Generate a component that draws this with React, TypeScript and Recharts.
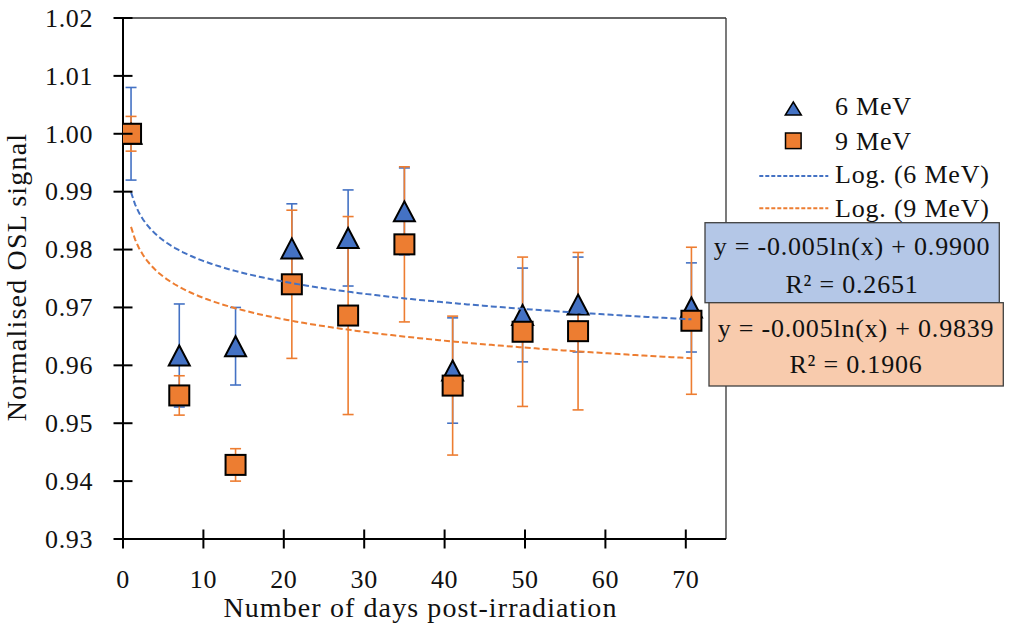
import React from 'react';
import { ScatterChart, Scatter, XAxis, YAxis, ErrorBar, ReferenceLine, Legend, Label } from 'recharts';

// days after irradiation (shared by both beams)
const days = [1, 7, 14, 21, 28, 35, 41, 49.7, 56.6, 70.7];

// normalised OSL signal and its uncertainty
const signal6 = [1.0, 0.9617, 0.9633, 0.9802, 0.982, 0.9866, 0.9591, 0.9687, 0.9705, 0.97];
const err6 = [0.008, 0.0089, 0.0067, 0.0077, 0.0083, 0.0075, 0.0091, 0.0081, 0.0082, 0.0077];
const signal9 = [1.0, 0.9548, 0.9428, 0.974, 0.9686, 0.9809, 0.9565, 0.9658, 0.9659, 0.9677];
const err9 = [0.003, 0.0034, 0.0028, 0.0128, 0.0171, 0.0134, 0.012, 0.0129, 0.0136, 0.0127];

const xTicks = [0, 10, 20, 30, 40, 50, 60, 70];
const yTicks = [0.93, 0.94, 0.95, 0.96, 0.97, 0.98, 0.99, 1.0, 1.01, 1.02];

const seriesNames = ['6 MeV', '9 MeV'];
const trendNames = ['Log. (6 MeV)', 'Log. (9 MeV)'];
const trendEq6 = ['y = -0.005ln(x) + 0.9900', 'R² = 0.2651'];
const trendEq9 = ['y = -0.005ln(x) + 0.9839', 'R² = 0.1906'];

const BLUE = '#4472C4';
const ORANGE = '#ED7D31';
const FONT = '"Liberation Serif", "Times New Roman", serif';

const points6 = days.map((x, i) => ({ x, y: signal6[i], err: err6[i] }));
const points9 = days.map((x, i) => ({ x, y: signal9[i], err: err9[i] }));

// least squares fit of y = a*ln(x) + b, like Excel's logarithmic trendline
function logTrend(xs: number[], ys: number[], steps = 140) {
  const ls = xs.map(Math.log);
  const n = xs.length;
  const mL = ls.reduce((s, v) => s + v, 0) / n;
  const mY = ys.reduce((s, v) => s + v, 0) / n;
  let sxy = 0;
  let sxx = 0;
  for (let i = 0; i < n; i++) {
    sxy += (ls[i] - mL) * (ys[i] - mY);
    sxx += (ls[i] - mL) * (ls[i] - mL);
  }
  const a = sxy / sxx;
  const b = mY - a * mL;
  const x0 = xs[0];
  const x1 = xs[xs.length - 1];
  const out: { x: number; y: number }[] = [];
  for (let i = 0; i <= steps; i++) {
    const x = x0 + ((x1 - x0) * i) / steps;
    out.push({ x, y: a * Math.log(x) + b });
  }
  return out;
}

const trend6 = logTrend(days, signal6);
const trend9 = logTrend(days, signal9);

const Hidden = () => <g />;

const Triangle = (props: any) => {
  const { cx, cy } = props;
  if (cx == null || cy == null) return <g />;
  return (
    <polygon
      points={`${cx},${cy - 10} ${cx + 10.5},${cy + 10} ${cx - 10.5},${cy + 10}`}
      fill={BLUE}
      stroke="#000"
      strokeWidth={2}
      strokeLinejoin="miter"
    />
  );
};

const Square = (props: any) => {
  const { cx, cy } = props;
  if (cx == null || cy == null) return <g />;
  return <rect x={cx - 10} y={cy - 10} width={20} height={20} fill={ORANGE} stroke="#000" strokeWidth={2} />;
};

const txt = { fontFamily: FONT, fill: '#111' };

const XTick = (props: any) => {
  const { x, y, payload } = props;
  return (
    <g>
      <line x1={x} x2={x} y1={y - 9.5} y2={y + 9.5} stroke="#000" strokeWidth={2} />
      <text x={x} y={y + 49} textAnchor="middle" fontSize={26} letterSpacing={0.6} {...txt}>
        {payload.value}
      </text>
    </g>
  );
};

const YTick = (props: any) => {
  const { x, y, payload } = props;
  return (
    <g>
      <line x1={x - 9.5} x2={x + 9.5} y1={y} y2={y} stroke="#000" strokeWidth={2} />
      <text x={x - 30} y={y + 8.8} textAnchor="end" fontSize={26} letterSpacing={0.6} {...txt}>
        {Number(payload.value).toFixed(2)}
      </text>
    </g>
  );
};

const LegendBox = () => (
  <svg width={259} height={140} style={{ display: 'block', overflow: 'visible' }}>
    <polygon points="43.3,14 51.3,27 35.3,27" fill={BLUE} stroke="#000" strokeWidth={1.5} />
    <text x={85} y={27} fontSize={26} letterSpacing={0.8} {...txt}>{seriesNames[0]}</text>
    <rect x={35.5} y={45} width={15.6} height={15.6} fill={ORANGE} stroke="#000" strokeWidth={1.5} />
    <text x={85} y={62} fontSize={26} letterSpacing={0.8} {...txt}>{seriesNames[1]}</text>
    <line x1={9.3} x2={78.3} y1={88} y2={88} stroke={BLUE} strokeWidth={2} strokeDasharray="4 2" />
    <text x={85} y={95.3} fontSize={26} letterSpacing={0.8} {...txt}>{trendNames[0]}</text>
    <line x1={9.3} x2={78.3} y1={120.3} y2={120.3} stroke={ORANGE} strokeWidth={2} strokeDasharray="4 2" />
    <text x={85} y={128.7} fontSize={26} letterSpacing={0.8} {...txt}>{trendNames[1]}</text>
  </svg>
);

export default function App() {
  return (
    <div style={{ position: 'absolute', left: 0, top: 0, width: 1009, height: 628, background: '#fff' }}>
      <ScatterChart width={1009} height={628} margin={{ top: 18, right: 283, bottom: 0, left: 0 }}>
        <XAxis
          dataKey="x"
          type="number"
          domain={[0, 75]}
          ticks={xTicks}
          interval={0}
          height={89}
          tickSize={0}
          tickMargin={0}
          tickLine={false}
          axisLine={{ stroke: '#000', strokeWidth: 2 }}
          tick={<XTick />}
          allowDataOverflow
        >
          <Label
            content={(p: any) => {
              const vb = p.viewBox || { x: 123, y: 539, width: 603 };
              return (
                <text x={vb.x + vb.width / 2 - 4} y={vb.y + 78} textAnchor="middle" fontSize={28} letterSpacing={1.1} {...txt}>
                  Number of days post-irradiation
                </text>
              );
            }}
          />
        </XAxis>
        <YAxis
          dataKey="y"
          type="number"
          domain={[0.93, 1.02]}
          ticks={yTicks}
          interval={0}
          width={123}
          tickSize={0}
          tickMargin={0}
          tickLine={false}
          axisLine={{ stroke: '#000', strokeWidth: 2 }}
          tick={<YTick />}
          allowDataOverflow
        >
          <Label
            content={(p: any) => {
              const vb = p.viewBox || { x: 0, y: 18, height: 521 };
              const cy = vb.y + vb.height / 2 - 1.5;
              return (
                <text x={26} y={cy} transform={`rotate(-90 26 ${cy})`} textAnchor="middle" fontSize={28} letterSpacing={1.2} {...txt}>
                  Normalised OSL signal
                </text>
              );
            }}
          />
        </YAxis>

        {/* plot frame: top and right edges */}
        <ReferenceLine y={1.02} stroke="#333" strokeWidth={1.3} />
        <ReferenceLine x={75} stroke="#333" strokeWidth={1.3} />

        {/* error bars first, so markers sit on top of both sets */}
        <Scatter data={points6} shape={Hidden} isAnimationActive={false} legendType="none">
          <ErrorBar dataKey="err" direction="y" width={5.5} stroke={BLUE} strokeWidth={1.6} isAnimationActive={false} />
        </Scatter>
        <Scatter data={points9} shape={Hidden} isAnimationActive={false} legendType="none">
          <ErrorBar dataKey="err" direction="y" width={5.5} stroke={ORANGE} strokeWidth={1.6} isAnimationActive={false} />
        </Scatter>

        <Scatter name={seriesNames[0]} data={points6} shape={Triangle} isAnimationActive={false} />
        <Scatter name={seriesNames[1]} data={points9} shape={Square} isAnimationActive={false} />

        {/* logarithmic trendlines */}
        <Scatter
          name={trendNames[0]}
          data={trend6}
          shape={Hidden}
          line={{ stroke: BLUE, strokeWidth: 2, strokeDasharray: '6 3' }}
          lineType="joint"
          isAnimationActive={false}
        />
        <Scatter
          name={trendNames[1]}
          data={trend9}
          shape={Hidden}
          line={{ stroke: ORANGE, strokeWidth: 2, strokeDasharray: '6 3' }}
          lineType="joint"
          isAnimationActive={false}
        />

        <Legend
          layout="horizontal"
          align="center"
          verticalAlign="middle"
          wrapperStyle={{ left: 750, top: 88, width: 259, height: 140 }}
          content={() => <LegendBox />}
        />
      </ScatterChart>

      {/* trendline equation boxes */}
      <svg width={1009} height={628} style={{ position: 'absolute', left: 0, top: 0, pointerEvents: 'none' }}>
        <rect x={705} y={222.7} width={294.3} height={80} fill="#B4C7E7" stroke="#404040" strokeWidth={1.3} />
        <text x={852} y={255} textAnchor="middle" fontSize={26} letterSpacing={0.8} {...txt}>{trendEq6[0]}</text>
        <text x={852} y={293.3} textAnchor="middle" fontSize={26} letterSpacing={0.8} {...txt}>{trendEq6[1]}</text>
        <rect x={709} y={302.7} width={294.3} height={83.3} fill="#F8CBAD" stroke="#404040" strokeWidth={1.3} />
        <text x={856} y={336.7} textAnchor="middle" fontSize={26} letterSpacing={0.8} {...txt}>{trendEq9[0]}</text>
        <text x={856} y={373.3} textAnchor="middle" fontSize={26} letterSpacing={0.8} {...txt}>{trendEq9[1]}</text>
      </svg>
    </div>
  );
}
